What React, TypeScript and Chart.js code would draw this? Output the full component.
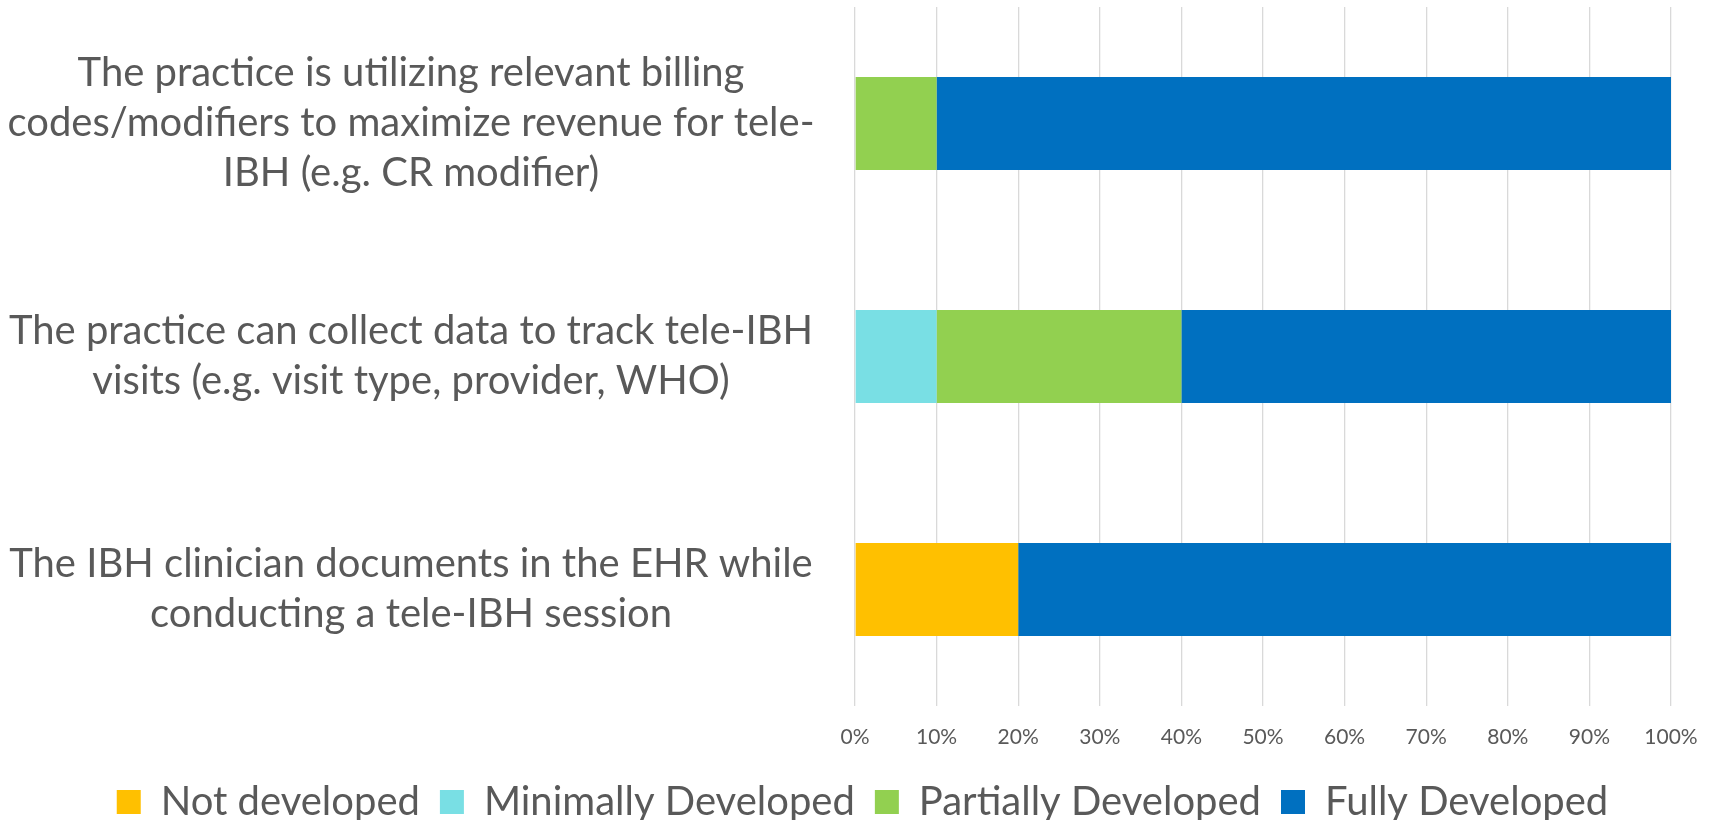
import React, { useEffect, useRef } from 'react';
import { Chart, registerables } from 'chart.js';

Chart.register(...registerables);

// ---- data ----
const categories: string[][] = [
  ['The practice is utilizing relevant billing', 'codes/modifiers to maximize revenue for tele-', 'IBH (e.g. CR modifier)'],
  ['The practice can collect data to track tele-IBH', 'visits (e.g. visit type, provider, WHO)'],
  ['The IBH clinician documents in the EHR while', 'conducting a tele-IBH session'],
];
const seriesNames = ['Not developed', 'Minimally Developed', 'Partially Developed', 'Fully Developed'];
const notDeveloped = [0, 0, 20];
const minimallyDeveloped = [0, 10, 0];
const partiallyDeveloped = [10, 30, 0];
const fullyDeveloped = [90, 60, 80];
const xTickValues = [0, 10, 20, 30, 40, 50, 60, 70, 80, 90, 100];
const xTickLabels = ['0%', '10%', '20%', '30%', '40%', '50%', '60%', '70%', '80%', '90%', '100%'];

// ---- style ----
const seriesColors = ['#FFC000', '#79DFE4', '#92D050', '#0070C0'];
const FONT = 'Lato';
const TEXT = '#595959';
const LABEL_SIZE = 40;
const LEGEND_SIZE = 40;
const TICK_SIZE = 21;
const LEGEND_PAD = 20;
const LEGEND_SHIFT = 27;
const W = 1715;
const H = 820;
const PLOT_LEFT = 855;
const LABEL_CENTER = 411;

const legendShift = {
  id: 'legendShift',
  afterLayout(chart: any) {
    const lg = chart.legend;
    if (lg) {
      lg.left += LEGEND_SHIFT;
      lg.right += LEGEND_SHIFT;
    }
  },
};

export default function App() {
  const ref = useRef<HTMLCanvasElement | null>(null);

  useEffect(() => {
    const canvas = ref.current;
    if (!canvas) return;
    const m = document.createElement('canvas').getContext('2d')!;
    m.font = `normal ${LABEL_SIZE}px ${FONT}`;
    let widest = 0;
    categories.forEach((lines) => lines.forEach((l) => { widest = Math.max(widest, m.measureText(l).width); }));
    const yPad = Math.max(PLOT_LEFT - LABEL_CENTER - widest / 2, 2);

    const values = [notDeveloped, minimallyDeveloped, partiallyDeveloped, fullyDeveloped];
    const chart = new Chart(canvas, {
      type: 'bar',
      data: {
        labels: categories,
        datasets: seriesNames.map((name, i) => ({
          label: name,
          data: values[i],
          backgroundColor: seriesColors[i],
          borderWidth: 0,
          barPercentage: 1,
          categoryPercentage: 0.4,
        })),
      },
      plugins: [legendShift],
      options: {
        indexAxis: 'y',
        responsive: false,
        animation: false,
        layout: { padding: { top: 7, right: 44, left: 0, bottom: 0 } },
        plugins: {
          tooltip: { enabled: false },
          legend: {
            position: 'bottom',
            maxHeight: 38 + LEGEND_PAD,
            labels: {
              boxWidth: 24,
              boxHeight: 24,
              padding: LEGEND_PAD,
              color: TEXT,
              font: { family: FONT, size: LEGEND_SIZE },
            },
          },
        },
        scales: {
          x: {
            stacked: true,
            min: 0,
            max: 100,
            afterBuildTicks: (s: any) => { s.ticks = xTickValues.map((v) => ({ value: v })); },
            ticks: {
              callback: (_v: any, i: number) => xTickLabels[i],
              color: TEXT,
              font: { family: FONT, size: TICK_SIZE },
              padding: 19,
              maxRotation: 0,
            },
            grid: { color: '#D9D9D9', lineWidth: 1.3, drawTicks: false },
            border: { display: false },
            afterFit: (s: any) => { s.paddingLeft = 0; s.paddingRight = 0; s.height = 56; },
          },
          y: {
            stacked: true,
            grid: { display: false, drawTicks: false },
            border: { display: false },
            ticks: {
              crossAlign: 'center',
              padding: yPad,
              color: TEXT,
              font: { family: FONT, size: LABEL_SIZE, lineHeight: 50 / LABEL_SIZE },
            },
            afterFit: (s: any) => { s.width = PLOT_LEFT; s.paddingTop = 0; s.paddingBottom = 0; },
          },
        },
      },
    } as any);
    return () => chart.destroy();
  }, []);

  return (
    <div style={{ position: 'fixed', left: 0, top: 0, width: W, height: H, background: '#fff' }}>
      <canvas ref={ref} width={W} height={H} style={{ display: 'block', width: W, height: H }} />
    </div>
  );
}
